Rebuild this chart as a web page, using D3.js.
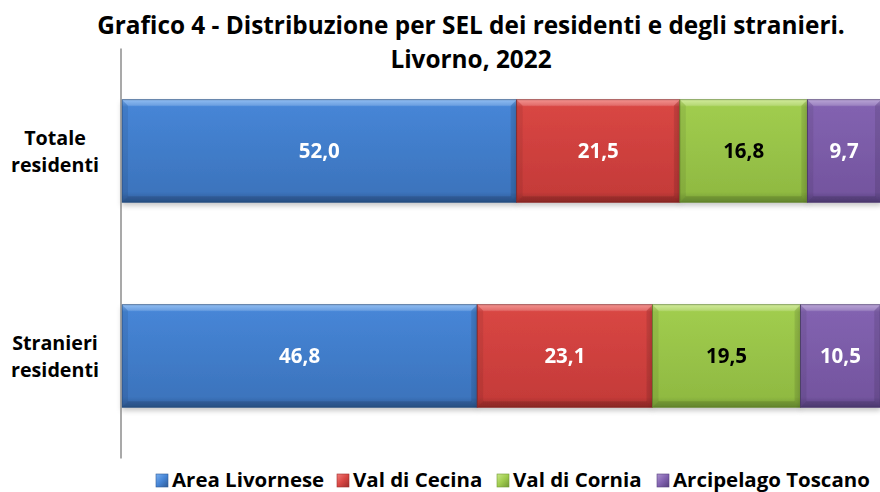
<!DOCTYPE html>
<html>
<head>
<meta charset="utf-8">
<script src="https://cdn.jsdelivr.net/npm/d3@7"></script>
<style>
  body { margin: 0; background: #fff; }
  text { font-family: 'Open Sans', sans-serif; font-weight: bold; }
</style>
</head>
<body>
<svg id="chart"></svg>
<script>
const categories = ['Totale residenti', 'Stranieri residenti']
const seriesNames = ['Area Livornese', 'Val di Cecina', 'Val di Cornia', 'Arcipelago Toscano']
const areaLivornese = [52.0, 46.8]
const valDiCecina = [21.5, 23.1]
const valDiCornia = [16.8, 19.5]
const arcipelagoToscano = [9.7, 10.5]
const titleLines = ['Grafico 4 - Distribuzione per SEL dei residenti e degli stranieri.', 'Livorno, 2022']

const width = 880
const height = 492
const colours = [
  { top: '#7ab0f0', mid: '#4685d6', low: '#3c74bd', bot: '#2f5b96', text: '#fff' },
  { top: '#f07d7a', mid: '#d84643', low: '#c53b39', bot: '#9e2d2b', text: '#fff' },
  { top: '#c8e788', mid: '#a0cc4e', low: '#90ba42', bot: '#729934', text: '#000' },
  { top: '#ab93ce', mid: '#8262b0', low: '#74559f', bot: '#57407f', text: '#fff' }
]

const svg = d3.select('#chart')
  .attr('width', width)
  .attr('height', height)

// font size that makes a string the given width
function fitSize (str, target) {
  const t = svg.append('text').attr('font-size', 100).text(str)
  const w = t.node().getComputedTextLength()
  t.remove()
  return 100 * target / w
}

const defs = svg.append('defs')
colours.forEach((c, i) => {
  const g = defs.append('linearGradient')
    .attr('id', `grad-${i}`)
    .attr('x1', 0).attr('y1', 0).attr('x2', 0).attr('y2', 1)
  g.append('stop').attr('offset', '0%').attr('stop-color', c.top)
  g.append('stop').attr('offset', '7%').attr('stop-color', c.mid)
  g.append('stop').attr('offset', '90%').attr('stop-color', c.low)
  g.append('stop').attr('offset', '100%').attr('stop-color', c.bot)
  const h = defs.append('linearGradient')
    .attr('id', `lgrad-${i}`)
    .attr('x1', 0).attr('y1', 0).attr('x2', 1).attr('y2', 1)
  h.append('stop').attr('offset', '0%').attr('stop-color', c.top)
  h.append('stop').attr('offset', '50%').attr('stop-color', c.mid)
  h.append('stop').attr('offset', '100%').attr('stop-color', c.bot)
})
const shadow = defs.append('filter').attr('id', 'shadow')
  .attr('x', '-5%').attr('y', '-10%').attr('width', '110%').attr('height', '130%')
shadow.append('feDropShadow')
  .attr('dx', 0).attr('dy', 3).attr('stdDeviation', 2.5)
  .attr('flood-color', '#000').attr('flood-opacity', 0.22)

// stack the series
const rows = categories.map((cat, i) => ({
  cat,
  'Area Livornese': areaLivornese[i],
  'Val di Cecina': valDiCecina[i],
  'Val di Cornia': valDiCornia[i],
  'Arcipelago Toscano': arcipelagoToscano[i]
}))
const stacked = d3.stack().keys(seriesNames)(rows)

const x = d3.scaleLinear().domain([0, 100]).range([122, 881])
const y = d3.scaleBand().domain(categories).range([48.5, 458.5])
  .paddingInner(0.5).paddingOuter(0.25)

// title
const titleSize = fitSize(titleLines[0], 748)
svg.append('g').selectAll('text')
  .data(titleLines)
  .join('text')
  .attr('x', 471)
  .attr('y', (d, i) => 34 + i * 34)
  .attr('text-anchor', 'middle')
  .attr('font-size', titleSize)
  .attr('fill', '#000')
  .text(d => d)

// bars
const layers = svg.append('g').selectAll('g')
  .data(stacked)
  .join('g')

const bars = layers.selectAll('g')
  .data(d => d.map(v => ({ v, i: d.index })))
  .join('g')
  .attr('filter', 'url(#shadow)')

bars.append('rect')
  .attr('x', d => x(d.v[0]))
  .attr('y', d => y(d.v.data.cat))
  .attr('width', d => x(d.v[1]) - x(d.v[0]))
  .attr('height', y.bandwidth())
  .attr('fill', d => `url(#grad-${d.i})`)
  .attr('stroke', d => d3.color(colours[d.i].bot).darker(0.4))
  .attr('stroke-width', 0.8)

// bevel edges
const bev = 6
const bevels = [
  { side: 'top', fill: '#fff', op: 0.16 },
  { side: 'left', fill: '#000', op: 0.07 },
  { side: 'right', fill: '#000', op: 0.1 },
  { side: 'bottom', fill: '#000', op: 0.12 }
]
bevels.forEach(b => {
  bars.append('path')
    .attr('d', d => {
      const x0 = x(d.v[0]); const x1 = x(d.v[1])
      const y0 = y(d.v.data.cat); const y1 = y0 + y.bandwidth()
      if (b.side === 'top') return `M${x0},${y0}L${x1},${y0}L${x1 - bev},${y0 + bev}L${x0 + bev},${y0 + bev}Z`
      if (b.side === 'left') return `M${x0},${y0}L${x0 + bev},${y0 + bev}L${x0 + bev},${y1 - bev}L${x0},${y1}Z`
      if (b.side === 'right') return `M${x1},${y0}L${x1 - bev},${y0 + bev}L${x1 - bev},${y1 - bev}L${x1},${y1}Z`
      return `M${x0},${y1}L${x1},${y1}L${x1 - bev},${y1 - bev}L${x0 + bev},${y1 - bev}Z`
    })
    .attr('fill', b.fill).attr('opacity', b.op)
})

const valueSize = fitSize('52,0', 41)
bars.append('text')
  .attr('x', d => (x(d.v[0]) + x(d.v[1])) / 2)
  .attr('y', d => y(d.v.data.cat) + y.bandwidth() / 2)
  .attr('dy', '0.36em')
  .attr('text-anchor', 'middle')
  .attr('font-size', valueSize)
  .attr('fill', d => colours[d.i].text)
  .text(d => d3.format('.1f')(d.v[1] - d.v[0]).replace('.', ','))

// y axis line
svg.append('line')
  .attr('x1', 121).attr('x2', 121)
  .attr('y1', y.range()[0]).attr('y2', y.range()[1])
  .attr('stroke', '#8c8c8c')
  .attr('stroke-width', 1.5)

// category labels
const catSize = fitSize('residenti', 88)
const catLabels = svg.append('g').selectAll('text')
  .data(categories)
  .join('text')
  .attr('text-anchor', 'middle')
  .attr('font-size', catSize)
  .attr('fill', '#000')
catLabels.each(function (d) {
  const parts = d.split(' ')
  const cy = y(d) + y.bandwidth() / 2
  d3.select(this).selectAll('tspan')
    .data(parts)
    .join('tspan')
    .attr('x', 55)
    .attr('y', (p, j) => cy - 6 + j * 27)
    .text(p => p)
})

// legend
const legendX = [156, 337, 497, 657]
const legendSize = fitSize('Arcipelago Toscano', 197)
const legend = svg.append('g').selectAll('g')
  .data(seriesNames)
  .join('g')
  .attr('transform', (d, i) => `translate(${legendX[i]},474)`)
legend.append('rect')
  .attr('width', 12).attr('height', 13)
  .attr('fill', (d, i) => `url(#lgrad-${i})`)
  .attr('stroke', (d, i) => colours[i].bot)
  .attr('stroke-width', 0.6)
legend.append('text')
  .attr('x', 16).attr('y', 13)
  .attr('font-size', legendSize)
  .attr('fill', '#000')
  .text(d => d)
</script>
</body>
</html>
